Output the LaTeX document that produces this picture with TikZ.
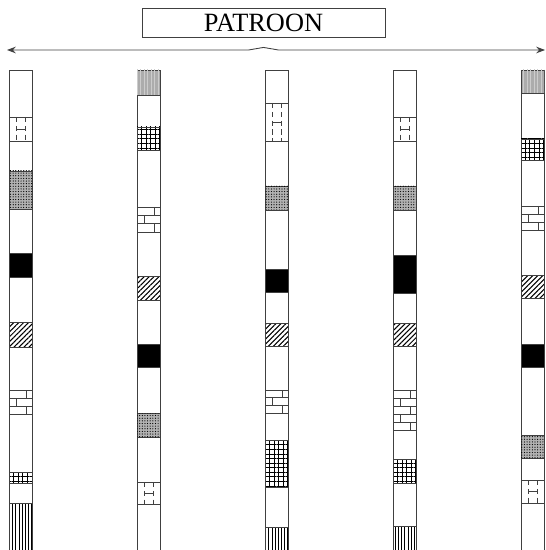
\documentclass[tikz,border=0pt]{standalone}
\usepackage{fontspec}
\setmainfont{Liberation Serif}
\usetikzlibrary{patterns,patterns.meta,arrows.meta}

% one strip segment: x, top, bottom, style
\newcommand{\seg}[4]{\fill[white] (#1,#2) rectangle (#1+23,#3);
  \draw[#4] (#1,#2) rectangle (#1+23,#3);}
% dashed H box
\newcommand{\hseg}[3]{\draw (#1,#2) rectangle (#1+23,#3);
  \draw[densely dashed] (#1+7,#2) -- (#1+7,#3) (#1+16,#2) -- (#1+16,#3);
  \draw (#1+7,{(#2+#3)/2}) -- (#1+16,{(#2+#3)/2});}
% brick box
\newcommand{\brickseg}[3]{\draw (#1,#2) rectangle (#1+23,#3);
  \pgfmathtruncatemacro\nrow{round((#3-#2)/8)}
  \pgfmathsetmacro\rh{(#3-#2)/\nrow}
  \foreach \k in {1,...,\nrow}{
    \pgfmathsetmacro\tx{ifthenelse(mod(\k,2)==0,7,17)}
    \draw (#1,{#2+\k*\rh}) -- ++(23,0);
    \draw (#1+\tx,{#2+(\k-1)*\rh}) -- ++(0,\rh);
  }}

\begin{document}
\begin{tikzpicture}[x=0.02cm,y=-0.02cm,line width=0.5pt,draw=black!75]
  \tikzset{
    blackseg/.style={fill=black},
    diagseg/.style={pattern={Lines[angle=45,distance=2pt,line width=0.6pt]}},
    gridseg/.style={pattern={Hatch[angle=0,distance=2.6pt,line width=0.5pt]}},
    vlineseg/.style={pattern={Lines[angle=90,distance=1.8pt,line width=0.5pt]}},
    dotseg/.style={fill=gray!60,postaction={pattern={Dots[distance=1.5pt,radius=0.35pt]}}},
    greyseg/.style={fill=gray!65,postaction={pattern={Lines[angle=90,distance=2pt,line width=0.4pt]},pattern color=gray!40}}
  }
  \useasboundingbox (0,0) rectangle (546,550);

  \node[draw, minimum width=4.86cm, minimum height=0.58cm, inner sep=0pt,
        font=\fontsize{15}{18}\selectfont] (title) at (263.5,22.5) {PATROON};
  \coordinate (left) at (7,50);
  \coordinate (right) at (545,50);
  \draw[{Stealth[length=5pt]}-{Stealth[length=5pt]}] (left) -- ([xshift=-0.3cm]title.south |- left)
    -- ([yshift=-0.2cm]title.south) -- ([xshift=0.3cm]title.south |- left) -- (right);

  % strips
  \foreach \x in {9,137,265,393,521}
    \draw (\x,551) -- (\x,70) -- (\x+23,70) -- (\x+23,551);

  % strip 1
  \hseg{9}{117}{141}
  \seg{9}{171}{209}{dotseg}
  \seg{9}{253}{277}{blackseg}
  \seg{9}{322}{347}{diagseg}
  \brickseg{9}{390}{414}
  \seg{9}{472}{483}{gridseg}
  \seg{9}{503}{551}{vlineseg}

  % strip 2
  \seg{137}{70}{95}{greyseg}
  \seg{137}{127}{150}{gridseg}
  \brickseg{137}{207}{232}
  \seg{137}{276}{300}{diagseg}
  \seg{137}{344}{367}{blackseg}
  \seg{137}{413}{437}{dotseg}
  \hseg{137}{482}{504}

  % strip 3
  \hseg{265}{103}{141}
  \seg{265}{186}{210}{dotseg}
  \seg{265}{269}{292}{blackseg}
  \seg{265}{323}{346}{diagseg}
  \brickseg{265}{390}{413}
  \seg{265}{440}{487}{gridseg}
  \seg{265}{527}{551}{vlineseg}

  % strip 4
  \hseg{393}{117}{141}
  \seg{393}{186}{210}{dotseg}
  \seg{393}{255}{293}{blackseg}
  \seg{393}{323}{346}{diagseg}
  \brickseg{393}{390}{430}
  \seg{393}{459}{483}{gridseg}
  \seg{393}{526}{551}{vlineseg}

  % strip 5
  \seg{521}{70}{93}{greyseg}
  \seg{521}{139}{160}{gridseg}
  \brickseg{521}{206}{230}
  \seg{521}{275}{298}{diagseg}
  \seg{521}{344}{367}{blackseg}
  \seg{521}{435}{458}{dotseg}
  \hseg{521}{480}{503}
\end{tikzpicture}
\end{document}
